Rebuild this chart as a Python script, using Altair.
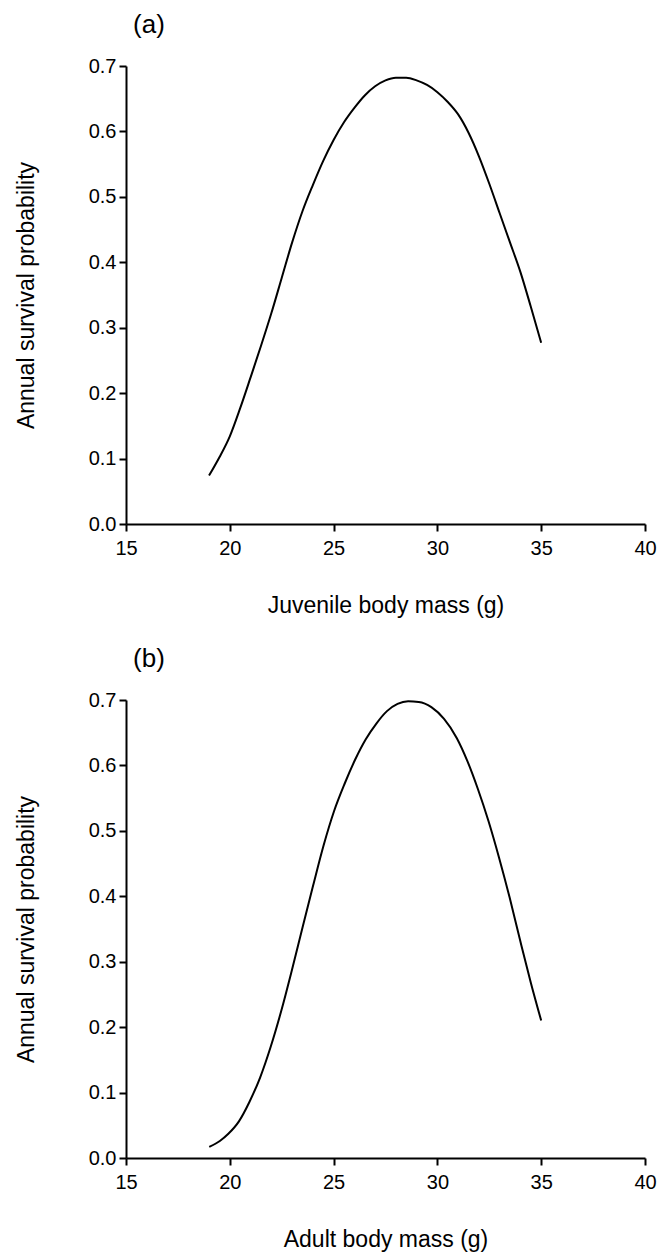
import altair as alt
import pandas as pd

# Panel (a): juvenile body mass vs annual survival probability
juv_mass = [19.0, 19.5, 20.0, 20.5, 21.0, 21.5, 22.0, 22.5, 23.0, 23.5,
            24.0, 24.5, 25.0, 25.5, 26.0, 26.5, 27.0, 27.5, 28.0, 28.5,
            29.0, 29.5, 30.0, 30.5, 31.0, 31.5, 32.0, 32.5, 33.0, 33.5,
            34.0, 34.5, 35.0]
juv_surv = [0.074, 0.102, 0.134, 0.177, 0.224, 0.272, 0.322, 0.376, 0.430, 0.478,
            0.518, 0.555, 0.587, 0.614, 0.636, 0.655, 0.669, 0.678, 0.682, 0.682,
            0.678, 0.671, 0.660, 0.645, 0.626, 0.598, 0.562, 0.520, 0.475, 0.430,
            0.385, 0.332, 0.277]

# Panel (b): adult body mass vs annual survival probability
ad_mass = [19.01, 19.52, 19.93, 20.44, 20.95, 21.46, 21.97, 22.48, 22.99, 23.50,
           24.01, 24.52, 25.02, 25.53, 26.04, 26.55, 27.06, 27.57, 28.08, 28.59,
           29.10, 29.71, 30.32, 30.93, 31.44, 31.95, 32.46, 32.97, 33.48, 33.99,
           34.50, 35.00]
ad_surv = [0.017, 0.026, 0.037, 0.056, 0.086, 0.123, 0.170, 0.225, 0.287, 0.352,
           0.416, 0.478, 0.530, 0.572, 0.609, 0.640, 0.664, 0.683, 0.694, 0.698,
           0.697, 0.689, 0.671, 0.642, 0.607, 0.564, 0.515, 0.459, 0.398, 0.332,
           0.268, 0.210]

x_ticks = [15, 20, 25, 30, 35, 40]
y_ticks = [0.0, 0.1, 0.2, 0.3, 0.4, 0.5, 0.6, 0.7]

FONT = "Liberation Sans"
W, H = 519, 458


def panel(mass, surv, letter, xtitle):
    df = pd.DataFrame({"mass": mass, "surv": surv})
    x = alt.X("mass:Q", scale=alt.Scale(domain=[15, 40], nice=False, zero=False),
              axis=alt.Axis(values=x_ticks, title=xtitle, grid=False,
                            labelPadding=7, titlePadding=36, format="d"))
    y = alt.Y("surv:Q", scale=alt.Scale(domain=[0, 0.7], nice=False),
              axis=alt.Axis(values=y_ticks, title="Annual survival probability",
                            grid=False, format=".1f", labelPadding=3,
                            titlePadding=50))
    line = alt.Chart(df).mark_line(color="black", strokeWidth=2,
                                   interpolate="monotone").encode(x=x, y=y)
    lab = alt.Chart(pd.DataFrame({"t": [letter]})).mark_text(
        font=FONT, fontSize=26, color="black", align="center", baseline="middle"
    ).encode(text="t:N", x=alt.value(23), y=alt.value(-41))
    return alt.layer(line, lab).properties(width=W, height=H)


a = panel(juv_mass, juv_surv, "(a)", "Juvenile body mass (g)")
b = panel(ad_mass, ad_surv, "(b)", "Adult body mass (g)")

chart = alt.vconcat(a, b, spacing=176, bounds="flush").properties(
    padding={"left": 15, "top": 12, "right": 5, "bottom": 5},
    background="white",
).configure_view(stroke=None).configure_axis(
    domainColor="black", domainWidth=2, tickColor="black", tickWidth=2,
    tickSize=7, labelFont=FONT, labelFontSize=20, labelColor="black",
    titleFont=FONT, titleFontSize=23, titleFontWeight="normal",
    titleColor="black", labelFlush=False,
)

chart.save("out.html", embed_options={"renderer": "svg", "actions": False})
